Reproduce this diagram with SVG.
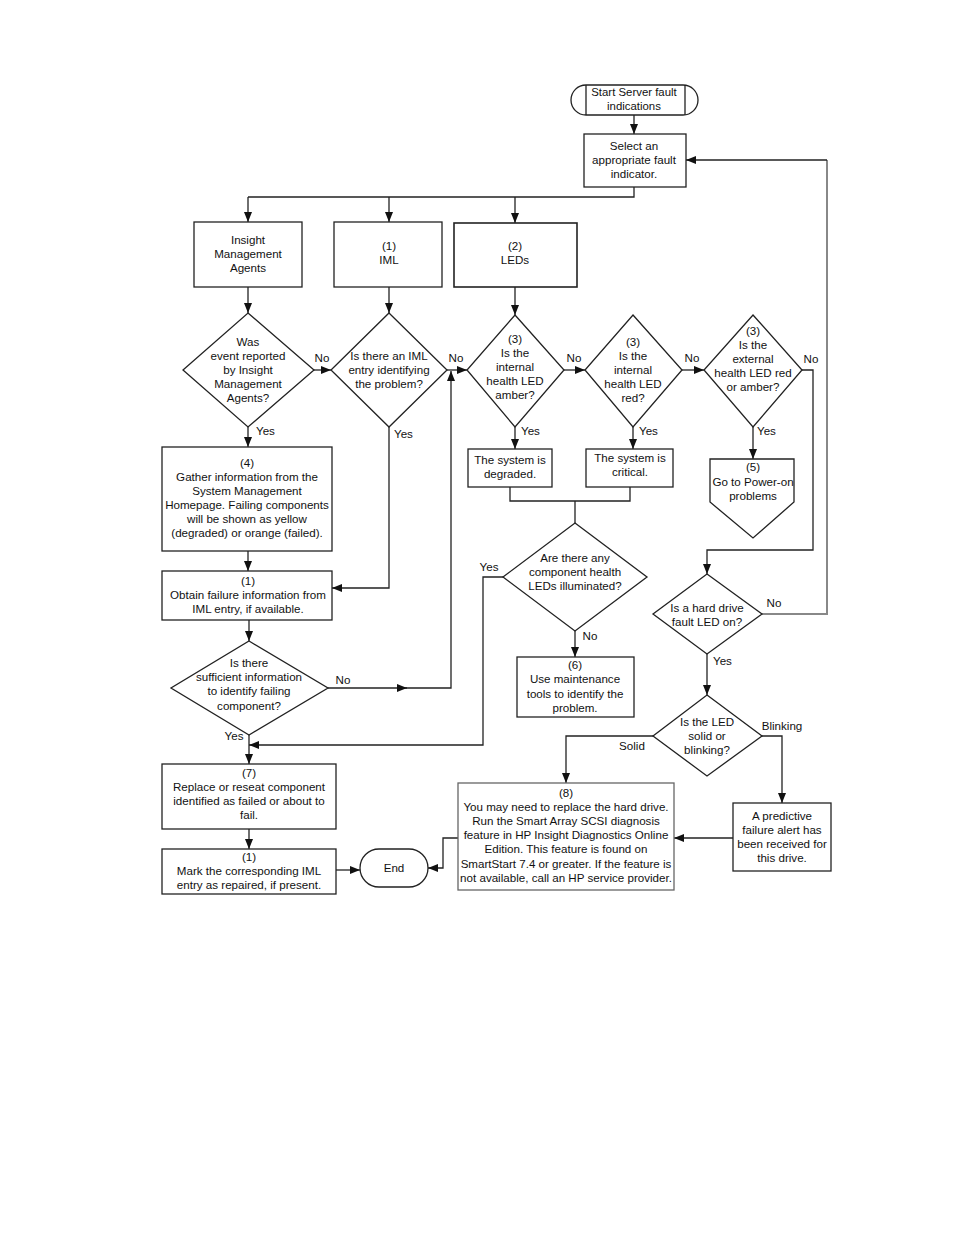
<svg xmlns="http://www.w3.org/2000/svg" width="954" height="1235" viewBox="0 0 954 1235">
<style>
.n{fill:#fff;stroke:#222;stroke-width:1.3}
.c{fill:none;stroke:#222;stroke-width:1.3}
.g{fill:none;stroke:#888;stroke-width:2}
.a{marker-end:url(#ar)}
text{font-family:"Liberation Sans",Arial,sans-serif;font-size:11.6px;fill:#111;text-anchor:middle}
.l{text-anchor:start}
</style>
<defs>
<marker id="ar" markerUnits="userSpaceOnUse" markerWidth="10" markerHeight="8" refX="10" refY="4" orient="auto"><path d="M0,0 L10,4 L0,8 Z" fill="#111"/></marker>
</defs>
<rect width="954" height="1235" fill="#fff"/>
<g id="connectors">
<path class="c a" d="M634,115 V134"/>
<path class="c" d="M634,187 V197 H248"/>
<path class="c a" d="M248,197 V222"/>
<path class="c a" d="M389,197 V222"/>
<path class="c a" d="M515,197 V223"/>
<path class="c a" d="M248,287 V313"/>
<path class="c a" d="M389,287 V313"/>
<path class="c a" d="M515,287 V315"/>
<path class="c a" d="M314,370 H331"/>
<path class="c a" d="M447,370 H467"/>
<path class="c a" d="M564,370 H585"/>
<path class="c a" d="M682,370 H704"/>
<path class="c a" d="M802,370 H813 V550 H707 V574"/>
<path class="c a" d="M248,427 V447"/>
<path class="c a" d="M389,427 V588 H332"/>
<path class="c a" d="M515,427 V449"/>
<path class="c a" d="M633,427 V449"/>
<path class="c a" d="M753,427 V459"/>
<path class="c a" d="M248,551 V571"/>
<path class="c a" d="M249,620 V641"/>
<path class="c a" d="M328,688 H407"/>
<path class="c a" d="M405,688 H451 V371"/>
<path class="c a" d="M249,735 V764"/>
<path class="c" d="M510,487 V501 H630 V487 M575,501 V523"/>
<path class="c a" d="M503,577 H483 V745 H249"/>
<path class="c a" d="M575,631 V657"/>
<path class="g" d="M762,614 H827 V160"/>
<path class="c a" d="M827,160 H686"/>
<path class="c a" d="M707,654 V695"/>
<path class="c a" d="M653,736 H566 V783"/>
<path class="c a" d="M762,736 H782 V803"/>
<path class="c a" d="M733,838 H674"/>
<path class="c a" d="M458,838 H443 V868 H428"/>
<path class="c a" d="M249,829 V849"/>
<path class="c a" d="M336,870 H360"/>
</g>
<g id="labels">
<text x="322" y="362">No</text>
<text x="456" y="362">No</text>
<text x="574" y="362">No</text>
<text x="692" y="362">No</text>
<text x="811" y="363">No</text>
<text class="l" x="256" y="435">Yes</text>
<text class="l" x="394" y="438">Yes</text>
<text class="l" x="521" y="435">Yes</text>
<text class="l" x="639" y="435">Yes</text>
<text class="l" x="757" y="435">Yes</text>
<text x="343" y="684">No</text>
<text x="234" y="740">Yes</text>
<text x="489" y="571">Yes</text>
<text x="590" y="640">No</text>
<text x="774" y="607">No</text>
<text class="l" x="713" y="665">Yes</text>
<text x="632" y="750">Solid</text>
<text x="782" y="730">Blinking</text>
</g>
<g id="start">
<rect class="n" x="571" y="85" width="127" height="30" rx="15"/>
<path class="c" d="M586,85 V115 M685,85 V115"/>
<text x="634" y="96" style="font-size:11.4px">Start Server fault</text>
<text x="634" y="110" style="font-size:11.4px">indications</text>
</g>
<g id="select">
<rect class="n" x="584" y="134" width="102" height="53"/>
<text x="634" y="150">Select an</text>
<text x="634" y="164">appropriate fault</text>
<text x="634" y="178">indicator.</text>
</g>
<g id="ima">
<rect class="n" x="194" y="222" width="108" height="65"/>
<text x="248" y="244">Insight</text>
<text x="248" y="258">Management</text>
<text x="248" y="272">Agents</text>
</g>
<g id="iml">
<rect class="n" x="334" y="222" width="108" height="65"/>
<text x="389" y="250">(1)</text>
<text x="389" y="264">IML</text>
</g>
<g id="leds">
<rect class="n" x="454" y="223" width="123" height="64" style="stroke-width:1.6"/>
<text x="515" y="250">(2)</text>
<text x="515" y="264">LEDs</text>
</g>
<g id="d1">
<path class="n" d="M248,313 L314,370 L248,427 L183,370 Z"/>
<text x="248" y="346">Was</text>
<text x="248" y="360">event reported</text>
<text x="248" y="374">by Insight</text>
<text x="248" y="388">Management</text>
<text x="248" y="402">Agents?</text>
</g>
<g id="d2">
<path class="n" d="M389,313 L447,370 L389,427 L331,370 Z"/>
<text x="389" y="360">Is there an IML</text>
<text x="389" y="374">entry identifying</text>
<text x="389" y="388">the problem?</text>
</g>
<g id="d3">
<path class="n" d="M515,315 L564,370 L515,427 L467,370 Z"/>
<text x="515" y="343">(3)</text>
<text x="515" y="357">Is the</text>
<text x="515" y="371">internal</text>
<text x="515" y="385">health LED</text>
<text x="515" y="399">amber?</text>
</g>
<g id="d4">
<path class="n" d="M633,315 L682,370 L633,427 L585,370 Z"/>
<text x="633" y="346">(3)</text>
<text x="633" y="360">Is the</text>
<text x="633" y="374">internal</text>
<text x="633" y="388">health LED</text>
<text x="633" y="402">red?</text>
</g>
<g id="d5">
<path class="n" d="M753,315 L802,370 L753,427 L704,370 Z"/>
<text x="753" y="335">(3)</text>
<text x="753" y="349">Is the</text>
<text x="753" y="363">external</text>
<text x="753" y="377">health LED red</text>
<text x="753" y="391">or amber?</text>
</g>
<g id="gather">
<rect class="n" x="162" y="447" width="170" height="104"/>
<text x="247" y="467">(4)</text>
<text x="247" y="481">Gather information from the</text>
<text x="247" y="495">System Management</text>
<text x="247" y="509">Homepage. Failing components</text>
<text x="247" y="523">will be shown as yellow</text>
<text x="247" y="537">(degraded) or orange (failed).</text>
</g>
<g id="degraded">
<rect class="n" x="468" y="449" width="84" height="38"/>
<text x="510" y="464">The system is</text>
<text x="510" y="478">degraded.</text>
</g>
<g id="critical">
<rect class="n" x="586" y="449" width="87" height="38"/>
<text x="630" y="462">The system is</text>
<text x="630" y="476">critical.</text>
</g>
<g id="poweron">
<path class="n" d="M710,459 H794 V502 L753,538 L710,502 Z"/>
<text x="753" y="471">(5)</text>
<text x="753" y="486">Go to Power-on</text>
<text x="753" y="500">problems</text>
</g>
<g id="obtain">
<rect class="n" x="162" y="571" width="170" height="49"/>
<text x="248" y="585">(1)</text>
<text x="248" y="599">Obtain failure information from</text>
<text x="248" y="613">IML entry, if available.</text>
</g>
<g id="anyleds">
<path class="n" d="M575,523 L647,577 L575,631 L503,577 Z"/>
<text x="575" y="562">Are there any</text>
<text x="575" y="576">component health</text>
<text x="575" y="590">LEDs illuminated?</text>
</g>
<g id="harddrive">
<path class="n" d="M707,574 L762,614 L707,654 L653,614 Z"/>
<text x="707" y="612">Is a hard drive</text>
<text x="707" y="626">fault LED on?</text>
</g>
<g id="sufficient">
<path class="n" d="M249,641 L328,688 L249,735 L171,688 Z"/>
<text x="249" y="667">Is there</text>
<text x="249" y="681">sufficient information</text>
<text x="249" y="695">to identify failing</text>
<text x="249" y="710">component?</text>
</g>
<g id="maint">
<rect class="n" x="517" y="657" width="117" height="60"/>
<text x="575" y="669">(6)</text>
<text x="575" y="683">Use maintenance</text>
<text x="575" y="698">tools to identify the</text>
<text x="575" y="712">problem.</text>
</g>
<g id="solid">
<path class="n" d="M707,695 L762,736 L707,776 L653,736 Z"/>
<text x="707" y="726">Is the LED</text>
<text x="707" y="740">solid or</text>
<text x="707" y="754">blinking?</text>
</g>
<g id="replace">
<rect class="n" x="162" y="764" width="174" height="65"/>
<text x="249" y="777">(7)</text>
<text x="249" y="791">Replace or reseat component</text>
<text x="249" y="805">identified as failed or about to</text>
<text x="249" y="819">fail.</text>
</g>
<g id="replacehd">
<rect class="n" x="458" y="783" width="216" height="107" style="stroke:#666"/>
<text x="566" y="797">(8)</text>
<text x="566" y="811">You may need to replace the hard drive.</text>
<text x="566" y="825">Run the Smart Array SCSI diagnosis</text>
<text x="566" y="839">feature in HP Insight Diagnostics Online</text>
<text x="566" y="853">Edition. This feature is found on</text>
<text x="566" y="868">SmartStart 7.4 or greater. If the feature is</text>
<text x="566" y="882">not available, call an HP service provider.</text>
</g>
<g id="predictive">
<rect class="n" x="733" y="803" width="98" height="68"/>
<text x="782" y="820">A predictive</text>
<text x="782" y="834">failure alert has</text>
<text x="782" y="848">been received for</text>
<text x="782" y="862">this drive.</text>
</g>
<g id="mark">
<rect class="n" x="162" y="849" width="174" height="45"/>
<text x="249" y="861">(1)</text>
<text x="249" y="875">Mark the corresponding IML</text>
<text x="249" y="889">entry as repaired, if present.</text>
</g>
<g id="end">
<rect class="n" x="360" y="849" width="68" height="38" rx="19"/>
<text x="394" y="872">End</text>
</g>
</svg>
